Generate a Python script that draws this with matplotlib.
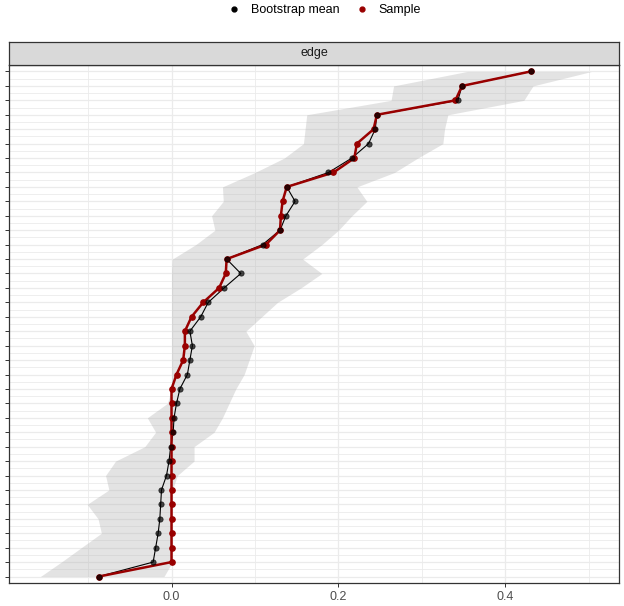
import numpy as np
import matplotlib
matplotlib.use("Agg")
import matplotlib.pyplot as plt
from matplotlib.lines import Line2D

plt.rcParams['font.family'] = ['Liberation Sans', 'DejaVu Sans']

# edges ordered from largest sample weight (top) to smallest (bottom)
sample = [0.430, 0.348, 0.340, 0.246, 0.242, 0.222, 0.219, 0.194, 0.138, 0.133,
          0.131, 0.130, 0.113, 0.066, 0.065, 0.057, 0.038, 0.024, 0.016, 0.016,
          0.014, 0.006, 0.0, 0.0, 0.0, 0.0, 0.0, 0.0, 0.0, 0.0,
          0.0, 0.0, 0.0, 0.0, 0.0, -0.087]
boot_mean = [0.430, 0.348, 0.343, 0.246, 0.244, 0.236, 0.216, 0.188, 0.138, 0.148,
             0.137, 0.130, 0.109, 0.066, 0.083, 0.063, 0.044, 0.035, 0.022, 0.025,
             0.022, 0.019, 0.010, 0.006, 0.003, 0.002, -0.001, -0.003, -0.006, -0.012,
             -0.013, -0.014, -0.016, -0.019, -0.022, -0.087]
ci_lower = [0.354, 0.266, 0.263, 0.162, 0.160, 0.158, 0.135, 0.100, 0.061, 0.062,
            0.048, 0.052, 0.029, 0.001, 0.0, 0.0, 0.0, 0.0, 0.0, 0.0,
            0.0, 0.0, 0.0, -0.005, -0.029, -0.019, -0.032, -0.067, -0.079, -0.075,
            -0.101, -0.088, -0.084, -0.108, -0.132, -0.157]
ci_upper = [0.503, 0.433, 0.422, 0.331, 0.327, 0.325, 0.295, 0.267, 0.222, 0.234,
            0.216, 0.200, 0.180, 0.157, 0.180, 0.155, 0.127, 0.108, 0.089, 0.099,
            0.093, 0.087, 0.077, 0.069, 0.061, 0.051, 0.027, 0.027, 0.007, 0.001,
            0.001, 0.001, 0.001, 0.001, 0.001, -0.009]
x_ticks = [0.0, 0.2, 0.4]
x_minor = [-0.1, 0.1, 0.3, 0.5]

n = len(sample)
pos = n - 1 - np.arange(n)

fig = plt.figure(figsize=(6.24, 6.06), dpi=100)
ax = fig.add_axes([9.3 / 624, 1 - 583 / 606, (619 - 9.3) / 624, (583 - 65) / 606])

# grid
for x in x_ticks:
    ax.axvline(x, color='#EBEBEB', lw=0.9, zorder=0)
for x in x_minor:
    ax.axvline(x, color='#EBEBEB', lw=0.6, zorder=0)
for y in pos:
    ax.axhline(y, color='#EBEBEB', lw=0.9, zorder=0)
for y in pos[:-1] - 0.5:
    ax.axhline(y, color='#EBEBEB', lw=0.6, zorder=0)

ax.fill_betweenx(pos, ci_lower, ci_upper, color='#b0b0b0', alpha=0.35, lw=0, zorder=1)

ax.plot(boot_mean, pos, color='black', lw=0.8, zorder=2)
ax.plot(sample, pos, color='#990000', lw=1.8, zorder=3)
ax.plot(sample, pos, 'o', color='#990000', ms=3.8, zorder=4)
ax.plot(boot_mean, pos, 'o', color='black', alpha=0.7, ms=3.8, mew=0.6, zorder=5)

ax.set_xlim(-0.1943, 0.536)
ax.set_ylim(-0.45, n - 1 + 0.45)
ax.set_xticks(x_ticks)
ax.set_xticklabels([f"{v:.1f}" for v in x_ticks])
ax.set_yticks(pos)
ax.set_yticklabels([])
ax.tick_params(axis='both', length=3, width=0.7, color='#333333')
ax.tick_params(axis='x', labelsize=9, labelcolor='#4D4D4D', pad=2.5)
for s in ax.spines.values():
    s.set_color('#333333')
    s.set_linewidth(0.9)

# facet strip
strip = fig.add_axes([9.3 / 624, 1 - 65 / 606, (619 - 9.3) / 624, 23.3 / 606])
strip.set_facecolor('#D9D9D9')
strip.set_xticks([])
strip.set_yticks([])
for s in strip.spines.values():
    s.set_color('#333333')
    s.set_linewidth(0.9)
strip.text(0.5, 0.5, 'edge', ha='center', va='center', fontsize=9, color='#1A1A1A',
           transform=strip.transAxes)

handles = [Line2D([], [], marker='o', ls='', color='black', ms=3.5),
           Line2D([], [], marker='o', ls='', color='#990000', ms=3.5)]
fig.legend(handles, ['Bootstrap mean', 'Sample'], loc='center', ncol=2,
           bbox_to_anchor=(323 / 624, 1 - 10 / 606), frameon=False, fontsize=9,
           handletextpad=0.6, columnspacing=1.0, handlelength=1.5)

fig.savefig('out.png', dpi=100)
